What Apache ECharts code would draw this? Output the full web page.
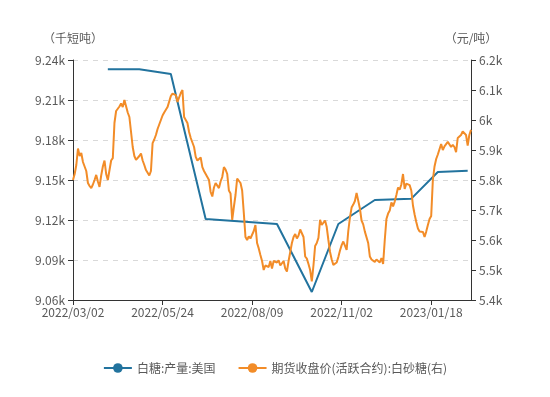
<!DOCTYPE html>
<html>
<head>
<meta charset="utf-8">
<script src="https://cdn.jsdelivr.net/npm/echarts@6/dist/echarts.min.js"></script>
<style>html,body{margin:0;padding:0;background:#fff}#c{width:550px;height:397px}</style>
</head>
<body>
<div id="c"></div>
<script>
// ---- data ----
var startDate = '2022-03-02';
var tradingDayCount = 241;
var holidays = ['2022-04-04','2022-04-05','2022-05-02','2022-05-03','2022-05-04','2022-06-03',
  '2022-08-15','2022-09-12','2022-10-03','2022-10-04','2022-10-05','2022-10-06','2022-10-07',
  '2023-01-02','2023-01-23','2023-01-24','2023-01-25','2023-01-26','2023-01-27'];

var seriesNames = ['白糖:产量:美国', '期货收盘价(活跃合约):白砂糖(右)'];

// US sugar production (thousand short tons), monthly
var usDates = ['2022/03/31','2022/04/29','2022/05/31','2022/06/30','2022/08/31','2022/09/30',
  '2022/10/31','2022/11/30','2022/12/30','2023/01/31','2023/02/24'];
var usValues = [9233, 9233, 9229.5, 9120.8, 9117, 9066, 9117, 9135, 9136, 9156, 9157];

// White sugar futures close (yuan/ton), daily
var futuresValues = [
5800,5820,5850,5905,5880,5890,5860,5865,5830,5790,
5780,5773,5785,5800,5817,5795,5777,5815,5845,5865,
5820,5800,5795,5865,5873,5990,6030,6030,6045,6055,
6043,6067,6073,6025,6010,5960,5910,5880,5867,5870,
5880,5888,5865,5850,5833,5833,5815,5830,5923,5935,
5950,5970,5985,6000,6015,6025,6027,6043,6040,6080,
6088,6088,6083,6060,6060,6090,6100,6010,6000,5990,
5960,5940,5925,5910,5877,5865,5860,5875,5843,5830,
5820,5810,5800,5760,5745,5775,5790,5785,5773,5795,
5810,5843,5835,5820,5765,5755,5667,5710,5750,5805,
5800,5790,5765,5690,5610,5600,5612,5605,5605,5630,
5650,5590,5572,5550,5530,5500,5515,5515,5510,5530,
5505,5530,5535,5525,5532,5515,5520,5530,5505,5495,
5530,5560,5590,5610,5620,5605,5615,5635,5635,5610,
5545,5538,5520,5500,5462,5515,5580,5590,5607,5667,
5650,5655,5665,5643,5600,5560,5535,5517,5512,5525,
5543,5565,5583,5595,5590,5567,5630,5675,5708,5718,
5730,5757,5755,5705,5665,5652,5628,5633,5590,5545,
5535,5530,5527,5535,5538,5525,5540,5520,5600,5670,
5688,5698,5725,5712,5728,5750,5775,5768,5785,5820,
5770,5788,5783,5783,5765,5715,5685,5660,5638,5628,
5624,5627,5610,5628,5650,5670,5680,5800,5845,5870,
5885,5890,5920,5900,5912,5917,5927,5922,5910,5917,
5910,5893,5940,5935,5950,5962,5957,5950,5915,5950,
5967];

var leftAxis = {min: 9060, max: 9240, interval: 30, name: '（千短吨）'};
var rightAxis = {min: 5400, max: 6200, interval: 100, name: '（元/吨）'};

// ---- build categories ----
function pad(n){return n<10?'0'+n:''+n;}
function buildDates(){
  var out=[]; var d=new Date(startDate+'T00:00:00Z');
  while(out.length<tradingDayCount){
    var wd=d.getUTCDay();
    var iso=d.getUTCFullYear()+'-'+pad(d.getUTCMonth()+1)+'-'+pad(d.getUTCDate());
    if(wd!==0&&wd!==6&&holidays.indexOf(iso)<0){
      out.push(d.getUTCFullYear()+'/'+pad(d.getUTCMonth()+1)+'/'+pad(d.getUTCDate()));
    }
    d.setUTCDate(d.getUTCDate()+1);
  }
  return out;
}
var categories = buildDates();
var usSeries = categories.map(function(){return null;});
usDates.forEach(function(dt,i){
  var idx=categories.indexOf(dt);
  if(idx<0){ // nearest earlier trading day
    for(var k=categories.length-1;k>=0;k--){ if(categories[k]<=dt){idx=k;break;} }
  }
  usSeries[idx]=usValues[i];
});

var labelColor='#595959';
var font='"Noto Sans CJK SC", "Noto Sans", sans-serif';
var chart=echarts.init(document.getElementById('c'));
chart.setOption({
  animation:false,
  color:['#22739e','#f28c28'],
  textStyle:{fontFamily:font},
  grid:{left:73,right:79,top:60,bottom:97},
  legend:{
    bottom:18,left:'center',itemWidth:28,itemHeight:12,itemGap:22,
    textStyle:{color:'#595959',fontSize:12,fontFamily:font},
    data:seriesNames
  },
  xAxis:{
    type:'category',boundaryGap:false,data:categories,
    axisLine:{lineStyle:{color:'#333',width:1}},
    axisTick:{interval:53,length:5,lineStyle:{color:'#333'}},
    axisLabel:{interval:53,color:labelColor,fontSize:12,margin:6,fontFamily:font},
    splitLine:{show:false}
  },
  yAxis:[{
    type:'value',min:leftAxis.min,max:leftAxis.max,interval:leftAxis.interval,
    name:leftAxis.name,nameLocation:'end',nameGap:16,
    nameTextStyle:{color:labelColor,fontSize:12,align:'center'},
    axisLine:{show:true,lineStyle:{color:'#333'}},
    axisTick:{show:true,length:5,lineStyle:{color:'#333'}},
    axisLabel:{color:labelColor,fontSize:12,margin:8,formatter:function(v){return (v/1000).toFixed(2)+'k';}},
    splitLine:{show:true,lineStyle:{color:'#d9d9d9',type:[5,5]}}
  },{
    type:'value',min:rightAxis.min,max:rightAxis.max,interval:rightAxis.interval,position:'right',
    name:rightAxis.name,nameLocation:'end',nameGap:16,
    nameTextStyle:{color:labelColor,fontSize:12,align:'center'},
    axisLine:{show:true,lineStyle:{color:'#333'}},
    axisTick:{show:true,length:5,lineStyle:{color:'#333'}},
    axisLabel:{color:labelColor,fontSize:12,margin:8,formatter:function(v){return (v/1000)+'k';}},
    splitLine:{show:false}
  }],
  series:[{
    name:seriesNames[0],type:'line',yAxisIndex:0,data:usSeries,connectNulls:true,
    showSymbol:false,symbol:'circle',symbolSize:8,lineStyle:{width:2}
  },{
    name:seriesNames[1],type:'line',yAxisIndex:1,data:futuresValues,
    showSymbol:false,symbol:'circle',symbolSize:8,lineStyle:{width:2}
  }]
});
</script>
</body>
</html>
